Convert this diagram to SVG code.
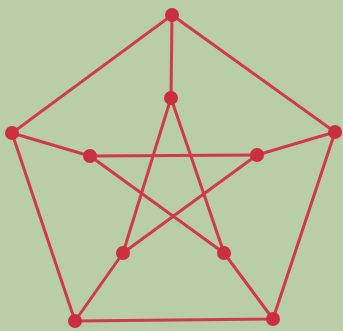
<svg xmlns="http://www.w3.org/2000/svg" width="343" height="331" viewBox="0 0 343 331">
<style>
.e{stroke:#cf3b4a;stroke-width:3;stroke-linecap:round;fill:none}
.n{fill:#cb2f3f}
</style>
<rect width="343" height="331" fill="#b9cda6"/>
<g id="edges">
<polygon class="e" points="172,15 335,132 273,319 75,321 12,133"/>
<line class="e" x1="172" y1="15" x2="171" y2="98"/>
<line class="e" x1="12" y1="133" x2="90" y2="156"/>
<line class="e" x1="335" y1="132" x2="257" y2="155"/>
<line class="e" x1="75" y1="321" x2="123" y2="253"/>
<line class="e" x1="273" y1="319" x2="224" y2="253"/>
<line class="e" x1="171" y1="98" x2="123" y2="253"/>
<line class="e" x1="171" y1="98" x2="224" y2="253"/>
<line class="e" x1="90" y1="156" x2="257" y2="155"/>
<line class="e" x1="90" y1="156" x2="224" y2="253"/>
<line class="e" x1="257" y1="155" x2="123" y2="253"/>
</g>
<g id="o1"><circle class="n" cx="172" cy="15" r="7"/></g>
<g id="o2"><circle class="n" cx="335" cy="132" r="7"/></g>
<g id="o3"><circle class="n" cx="273" cy="319" r="7"/></g>
<g id="o4"><circle class="n" cx="75" cy="321" r="7"/></g>
<g id="o5"><circle class="n" cx="12" cy="133" r="7"/></g>
<g id="i1"><circle class="n" cx="171" cy="98" r="7"/></g>
<g id="i2"><circle class="n" cx="257" cy="155" r="7"/></g>
<g id="i3"><circle class="n" cx="224" cy="253" r="7"/></g>
<g id="i4"><circle class="n" cx="123" cy="253" r="7"/></g>
<g id="i5"><circle class="n" cx="90" cy="156" r="7"/></g>
</svg>
